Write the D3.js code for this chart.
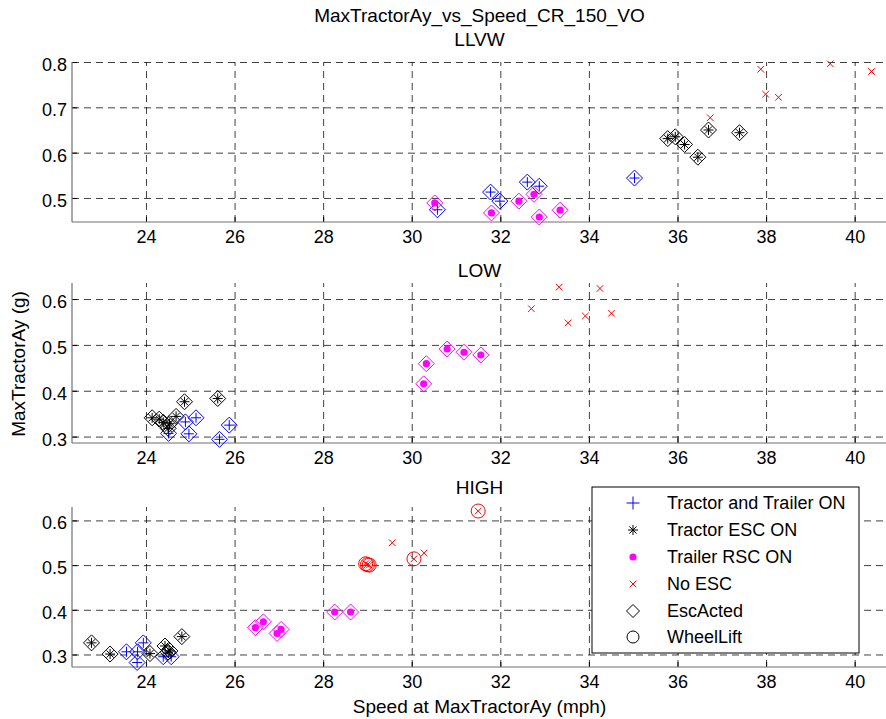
<!DOCTYPE html>
<html>
<head>
<meta charset="utf-8">
<script src="https://cdn.jsdelivr.net/npm/d3@7/dist/d3.min.js"></script>
<style>
  html, body { margin: 0; padding: 0; background: #fff; }
  svg { display: block; }
  text { font-family: "Liberation Sans", Arial, Helvetica, sans-serif; fill: #000; }
</style>
</head>
<body>
<svg id="chart" width="886" height="719"></svg>
<script>
// ---------------- DATA ----------------
const chartTitle = "MaxTractorAy_vs_Speed_CR_150_VO";
const panelNames = ["LLVW", "LOW", "HIGH"];
const xLabel = "Speed at MaxTractorAy (mph)";
const yLabel = "MaxTractorAy (g)";
const xTicks = [24, 26, 28, 30, 32, 34, 36, 38, 40];
const yTicksLLVW = [0.5, 0.6, 0.7, 0.8];
const yTicksLOW = [0.3, 0.4, 0.5, 0.6];
const yTicksHIGH = [0.3, 0.4, 0.5, 0.6];
const legendLabels = ["Tractor and Trailer ON", "Tractor ESC ON", "Trailer RSC ON", "No ESC", "EscActed", "WheelLift"];

// [speed (mph), MaxTractorAy (g)]
const llvwTractorTrailer = [[30.58,0.474],[31.78,0.513],[31.99,0.493],[32.61,0.535],[32.88,0.526],[35.03,0.544]];
const llvwTractorESC     = [[35.78,0.631],[35.95,0.635],[36.16,0.618],[36.46,0.590],[36.70,0.650],[37.40,0.644]];
const llvwTrailerRSC     = [[30.52,0.489],[31.80,0.467],[32.42,0.493],[32.76,0.508],[32.88,0.458],[33.35,0.473]];
const llvwNoESC          = [[37.88,0.784],[39.45,0.796],[40.38,0.779],[37.99,0.729],[38.28,0.722],[36.74,0.677]];
const llvwWheelLift      = [];

const lowTractorTrailer = [[24.51,0.307],[24.89,0.332],[25.13,0.341],[24.97,0.306],[25.66,0.294],[25.88,0.325]];
const lowTractorESC     = [[24.14,0.341],[24.30,0.338],[24.39,0.331],[24.53,0.328],[24.68,0.344],[24.87,0.376],[25.62,0.383],[24.50,0.318]];
const lowTrailerRSC     = [[30.27,0.415],[30.33,0.459],[30.80,0.491],[31.18,0.484],[31.56,0.478]];
const lowNoESC          = [[33.33,0.626],[34.25,0.623],[32.70,0.579],[33.53,0.548],[33.92,0.563],[34.51,0.569]];
const lowWheelLift      = [];

const highTractorTrailer = [[23.56,0.306],[23.81,0.306],[23.94,0.326],[23.80,0.282],[24.39,0.295],[24.57,0.295]];
const highTractorESC     = [[22.77,0.326],[23.19,0.301],[24.09,0.302],[24.43,0.319],[24.54,0.308],[24.81,0.340],[24.50,0.305]];
const highTrailerRSC     = [[26.47,0.360],[26.65,0.373],[26.96,0.347],[27.05,0.356],[28.26,0.395],[28.62,0.395]];
const highNoESC          = [[31.50,0.621],[30.05,0.514],[28.96,0.503],[29.00,0.501],[29.04,0.500],[29.56,0.550],[30.28,0.527]];
const highWheelLift      = [[31.50,0.621],[30.05,0.514],[28.96,0.503],[29.00,0.501],[29.04,0.500]];

const yDomains = [[0.447, 0.8], [0.286, 0.635], [0.272, 0.63]];

// ---------------- LAYOUT ----------------
const svg = d3.select("#chart");
const axLeft = 72, axRight = 887;
const panelTops = [62, 283, 507];
const panelTitleY = [46, 277, 494];
const panelH = 160;
const blue = "#0000ff", black = "#000000", magenta = "#ff00ff", red = "#ff0000";

const x = d3.scaleLinear().domain([22.33, 40.73]).range([axLeft, axRight]);

const panelData = [
  {tt: llvwTractorTrailer, esc: llvwTractorESC, rsc: llvwTrailerRSC, none: llvwNoESC, wl: llvwWheelLift, yt: yTicksLLVW},
  {tt: lowTractorTrailer,  esc: lowTractorESC,  rsc: lowTrailerRSC,  none: lowNoESC,  wl: lowWheelLift,  yt: yTicksLOW},
  {tt: highTractorTrailer, esc: highTractorESC, rsc: highTrailerRSC, none: highNoESC, wl: highWheelLift, yt: yTicksHIGH}
];

// marker path helpers
function plusPath(s) { return `M${-s},0H${s}M0,${-s}V${s}`; }
function xPath(s) { return `M${-s},${-s}L${s},${s}M${-s},${s}L${s},${-s}`; }
function starPath(s) { const d = s * 0.72; return plusPath(s) + xPath(d); }
function diamondPath(s) { return `M0,${-s}L${s},0L0,${s}L${-s},0Z`; }

function drawMarker(g, type, cx, cy, color, big) {
  const m = g.append("g").attr("transform", `translate(${cx},${cy})`);
  if (type === "plus") m.append("path").attr("d", plusPath(big ? 6.5 : 5)).attr("stroke", color).attr("stroke-width", 1).attr("fill", "none");
  else if (type === "star") m.append("path").attr("d", starPath(5)).attr("stroke", color).attr("stroke-width", 1).attr("fill", "none");
  else if (type === "dot") m.append("circle").attr("r", 3.6).attr("fill", color);
  else if (type === "x") m.append("path").attr("d", xPath(3.3)).attr("stroke", color).attr("stroke-width", 1).attr("fill", "none");
  else if (type === "diamond") m.append("path").attr("d", diamondPath(big ? 6.5 : 8)).attr("stroke", color).attr("stroke-width", 1).attr("fill", "none");
  else if (type === "circle") m.append("circle").attr("r", big ? 6 : 7).attr("stroke", color).attr("stroke-width", 1).attr("fill", "none");
}

panelData.forEach((pd, i) => {
  const top = panelTops[i], bottom = top + panelH;
  const y = d3.scaleLinear().domain(yDomains[i]).range([bottom, top]);
  const g = svg.append("g");

  // vertical grid
  const gx = g.append("g").attr("transform", `translate(0,${bottom})`)
    .call(d3.axisBottom(x).tickValues(xTicks).tickSize(-panelH).tickFormat(""));
  gx.select(".domain").remove();
  gx.selectAll(".tick line").attr("stroke", "#000").attr("stroke-opacity", 0.75).attr("stroke-dasharray", "7,5");

  // horizontal grid
  const gy = g.append("g").attr("transform", `translate(${axLeft},0)`)
    .call(d3.axisLeft(y).tickValues(pd.yt).tickSize(-(axRight - axLeft)).tickFormat(""));
  gy.select(".domain").remove();
  gy.selectAll(".tick line").attr("stroke", "#000").attr("stroke-opacity", 0.75).attr("stroke-dasharray", "7,5");

  // tick marks (inward)
  const tx = g.append("g").attr("transform", `translate(0,${bottom})`)
    .call(d3.axisBottom(x).tickValues(xTicks).tickSize(-5).tickPadding(8).tickFormat(d3.format("d")));
  tx.select(".domain").remove();
  tx.selectAll(".tick line").attr("stroke", "#000");
  tx.selectAll(".tick text").attr("font-size", 18).attr("dy", "0.71em");

  const ty = g.append("g").attr("transform", `translate(${axLeft},0)`)
    .call(d3.axisLeft(y).tickValues(pd.yt).tickSize(-5).tickPadding(5).tickFormat(d3.format(".1f")));
  ty.select(".domain").remove();
  ty.selectAll(".tick line").attr("stroke", "#000");
  ty.selectAll(".tick text").attr("font-size", 18).attr("dy", "0.47em");

  // axis lines
  g.append("line").attr("x1", axLeft).attr("x2", axRight).attr("y1", bottom).attr("y2", bottom).attr("stroke", "#707070").attr("stroke-width", 1.2);
  g.append("line").attr("x1", axLeft).attr("x2", axLeft).attr("y1", top).attr("y2", bottom).attr("stroke", "#707070").attr("stroke-width", 1.2);

  // panel title
  g.append("text").attr("x", (axLeft + axRight) / 2).attr("y", panelTitleY[i])
    .attr("text-anchor", "middle").attr("font-size", 19).text(panelNames[i]);

  const mk = g.append("g");
  pd.tt.forEach(p => { drawMarker(mk, "diamond", x(p[0]), y(p[1]), blue); drawMarker(mk, "plus", x(p[0]), y(p[1]), blue); });
  pd.esc.forEach(p => { drawMarker(mk, "diamond", x(p[0]), y(p[1]), black); drawMarker(mk, "star", x(p[0]), y(p[1]), black); });
  pd.rsc.forEach(p => { drawMarker(mk, "diamond", x(p[0]), y(p[1]), magenta); drawMarker(mk, "dot", x(p[0]), y(p[1]), magenta); });
  pd.none.forEach(p => drawMarker(mk, "x", x(p[0]), y(p[1]), red));
  pd.wl.forEach(p => drawMarker(mk, "circle", x(p[0]), y(p[1]), red));
});

// main title
svg.append("text").attr("x", (axLeft + axRight) / 2).attr("y", 22)
  .attr("text-anchor", "middle").attr("font-size", 19).text(chartTitle);

// axis labels
svg.append("text").attr("x", (axLeft + axRight) / 2).attr("y", 713)
  .attr("text-anchor", "middle").attr("font-size", 19).text(xLabel);
svg.append("text").attr("transform", "translate(25,364) rotate(-90)")
  .attr("text-anchor", "middle").attr("font-size", 19).text(yLabel);

// legend
const lg = svg.append("g");
lg.append("rect").attr("x", 592).attr("y", 487).attr("width", 267).attr("height", 166)
  .attr("fill", "#fff").attr("stroke", "#000").attr("stroke-width", 1);
const legendRowY = [503, 530, 557, 584, 611, 637];
const legendTypes = [["plus", blue], ["star", black], ["dot", magenta], ["x", red], ["diamond", black], ["circle", black]];
legendLabels.forEach((lab, i) => {
  drawMarker(lg, legendTypes[i][0], 633, legendRowY[i], legendTypes[i][1], true);
  lg.append("text").attr("x", 667).attr("y", legendRowY[i]).attr("dy", "0.36em")
    .attr("font-size", 18).text(lab);
});
</script>
</body>
</html>
